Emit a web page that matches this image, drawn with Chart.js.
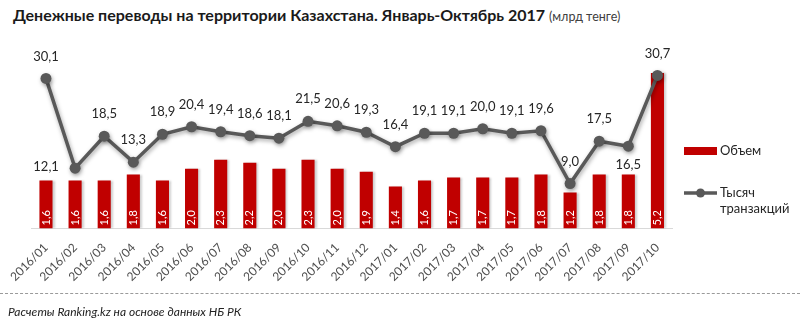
<!DOCTYPE html>
<html>
<head>
<meta charset="utf-8">
<script src="https://cdn.jsdelivr.net/npm/chart.js@4.4.0/dist/chart.umd.min.js"></script>
<style>
  body { margin: 0; width: 800px; height: 325px; background: #fff; position: relative; overflow: hidden; font-family: Lato, sans-serif; }
  #title { position: absolute; left: 13px; top: 5px; font-weight: bold; font-size: 16px; color: #1a1a1a; white-space: nowrap; }
  #title span { font-weight: normal; font-size: 12.5px; color: #404040; }
  #wrap { position: absolute; left: 0; top: 0; width: 800px; height: 325px; }
  #footLine { position: absolute; left: 0; right: 0; top: 293px; border-top: 1px dashed #9a9a9a; }
  #foot { position: absolute; left: 8px; top: 304px; font-style: italic; font-size: 12px; color: #222; }
</style>
</head>
<body>
<div id="title">Денежные переводы на территории Казахстана. Январь-Октябрь 2017 <span>(млрд тенге)</span></div>
<div id="wrap"><canvas id="mycanvas" width="800" height="325"></canvas></div>
<div id="footLine"></div>
<div id="foot">Расчеты Ranking.kz на основе данных  НБ РК</div>
<script>
var months = ['2016/01', '2016/02', '2016/03', '2016/04', '2016/05', '2016/06', '2016/07', '2016/08', '2016/09', '2016/10', '2016/11', '2016/12',
              '2017/01', '2017/02', '2017/03', '2017/04', '2017/05', '2017/06', '2017/07', '2017/08', '2017/09', '2017/10'];
var volume = [1.6, 1.6, 1.6, 1.8, 1.6, 2.0, 2.3, 2.2, 2.0, 2.3, 2.0, 1.9, 1.4, 1.6, 1.7, 1.7, 1.7, 1.8, 1.2, 1.8, 1.8, 5.2]; // млрд тенге
var transactions = [30.1, 12.1, 18.5, 13.3, 18.9, 20.4, 19.4, 18.6, 18.1, 21.5, 20.6, 19.3, 16.4, 19.1, 19.1, 20.0, 19.1, 19.6, 9.0, 17.5, 16.5, 30.7];

var barColor = '#c00000';
var lineColor = '#595959';
// where the line label goes when it is not above the point
var labelSide = {1: 'left', 20: 'below'};

function fmt(v) { return v.toFixed(1).replace('.', ','); }

var shadows = {
  id: 'shadows',
  beforeDatasetDraw: function(chart, args) {
    var ctx = chart.ctx;
    ctx.save();
    if (args.meta.type === 'line') {
      ctx.shadowColor = 'rgba(0,0,0,0.35)';
      ctx.shadowBlur = 4;
      ctx.shadowOffsetX = 1;
      ctx.shadowOffsetY = 2;
    } else {
      ctx.shadowColor = 'rgba(0,0,0,0.2)';
      ctx.shadowBlur = 2;
      ctx.shadowOffsetX = 2;
      ctx.shadowOffsetY = 0;
    }
  },
  afterDatasetDraw: function(chart) { chart.ctx.restore(); }
};

var valueLabels = {
  id: 'valueLabels',
  afterDatasetsDraw: function(chart) {
    var ctx = chart.ctx;
    var bars = chart.getDatasetMeta(1).data;
    var pts = chart.getDatasetMeta(0).data;
    ctx.save();
    // bar values, rotated, inside the bar
    ctx.fillStyle = '#fff';
    ctx.font = '11px Lato';
    ctx.textAlign = 'left';
    ctx.textBaseline = 'middle';
    bars.forEach(function(b, i) {
      ctx.save();
      ctx.translate(b.x, b.base - 3);
      ctx.rotate(-Math.PI / 2);
      ctx.fillText(fmt(volume[i]), 0, 0);
      ctx.restore();
    });
    // line values
    ctx.fillStyle = '#262626';
    ctx.font = '13px Lato';
    ctx.textAlign = 'center';
    pts.forEach(function(p, i) {
      var side = labelSide[i] || 'above';
      var x = p.x, y = p.y - 22;
      if (side === 'left') { x = p.x - 29; y = p.y - 1; }
      if (side === 'below') { y = p.y + 19; }
      ctx.fillText(fmt(transactions[i]), x, y);
    });
    ctx.restore();
  },
  afterDraw: function(chart) {
    var ctx = chart.ctx;
    ctx.save();
    ctx.fillStyle = barColor;
    ctx.fillRect(684, 147, 33, 8);
    ctx.strokeStyle = lineColor;
    ctx.lineWidth = 3.5;
    ctx.beginPath();
    ctx.moveTo(684, 193);
    ctx.lineTo(717, 193);
    ctx.stroke();
    ctx.fillStyle = lineColor;
    ctx.beginPath();
    ctx.arc(700.5, 193, 4.5, 0, Math.PI * 2);
    ctx.fill();
    ctx.fillStyle = '#262626';
    ctx.font = '13px Lato';
    ctx.textAlign = 'left';
    ctx.textBaseline = 'middle';
    ctx.fillText('Объем', 720, 151);
    ctx.fillText('Тысяч', 720, 193);
    ctx.fillText('транзакций', 720, 209);
    ctx.restore();
  }
};

var chartdata = {
  labels: months,
  datasets: [
    {
      type: 'line',
      label: 'Тысяч транзакций',
      data: transactions,
      yAxisID: 'y1',
      borderColor: lineColor,
      backgroundColor: lineColor,
      borderWidth: 3.5,
      pointRadius: 5.5,
      pointBackgroundColor: lineColor,
      pointBorderWidth: 0,
      tension: 0,
      order: 0
    },
    {
      type: 'bar',
      label: 'Объем',
      data: volume,
      yAxisID: 'y',
      backgroundColor: barColor,
      categoryPercentage: 1,
      barPercentage: 0.45,
      order: 1
    }
  ]
};

var ctx = document.getElementById('mycanvas').getContext('2d');
new Chart(ctx, {
  data: chartdata,
  options: {
    responsive: false,
    animation: false,
    layout: { padding: { left: 27, right: 128, top: 49, bottom: 29 } },
    plugins: {
      legend: { display: false },
      tooltip: { enabled: false }
    },
    scales: {
      x: {
        grid: { display: false, drawTicks: false },
        border: { display: true, color: '#d9d9d9', width: 1 },
        ticks: {
          autoSkip: false, maxRotation: 45, minRotation: 45, padding: 12,
          color: '#4d4d4d', font: { family: 'Lato', size: 12 }
        }
      },
      y: { display: false, min: 0, max: 6 },
      y1: { display: false, min: 0, max: 36 }
    }
  },
  plugins: [shadows, valueLabels]
});
</script>
</body>
</html>
